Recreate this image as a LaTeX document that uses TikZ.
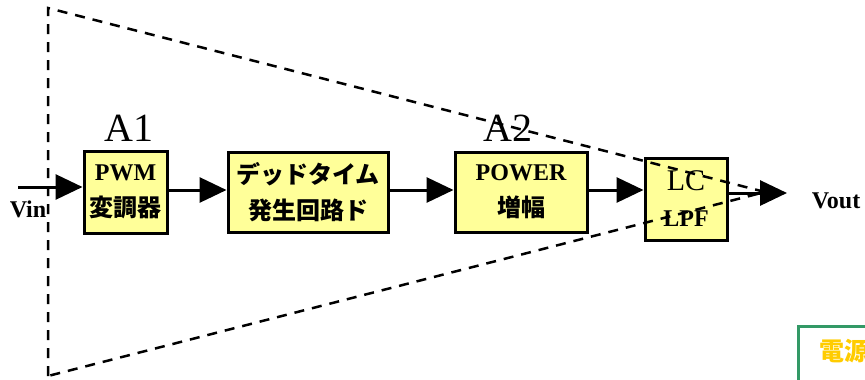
\documentclass[tikz,border=0pt]{standalone}
\usepackage{fontspec}
\setmainfont{Liberation Serif}
\newfontfamily\jp{Noto Sans CJK JP}
\usetikzlibrary{arrows.meta}
\definecolor{boxfill}{HTML}{FFFF99}
\definecolor{srcgreen}{HTML}{339966}
\definecolor{srcgold}{HTML}{FFCC00}
\tikzset{
  blockbox/.style={draw=black, line width=3pt, fill=boxfill, inner sep=0pt, align=center,
    font=\fontsize{24}{36}\selectfont\bfseries},
  sig/.style={line width=3pt, -{Triangle[length=27pt,width=25pt]}},
  dashline/.style={line width=2.5pt, dash pattern=on 10pt off 8pt},
  lbl/.style={inner sep=0pt, font=\fontsize{24}{26}\selectfont\bfseries},
  alabel/.style={inner sep=0pt, font=\fontsize{40}{40}\selectfont},
}
\begin{document}
\begin{tikzpicture}[x=1pt,y=-1pt]
\useasboundingbox (0,0) rectangle (865,380);
% blocks
\node[blockbox, minimum width=83pt, minimum height=82pt] (pwm) at (125.5,192)
  {PWM\\ \jp 変調器};
\node[blockbox, minimum width=160pt, minimum height=80pt] (dead) at (308,192)
  {\jp デッドタイム\\ \jp 発生回路ド};
\node[blockbox, minimum width=132pt, minimum height=80pt] (pow) at (521,192)
  {POWER\\ \jp 増幅};
\node[blockbox, minimum width=82pt, minimum height=82pt] (lc) at (686,199)
  {\fontsize{30}{34}\selectfont\mdseries LC\\ LPF};
% labels
\node[alabel] (a1) at (129,128) {A1};
\node[alabel] (a2) at (508,128) {A2};
\node[lbl] (vin) at (28,209) {Vin};
\node[lbl] (vout) at (836,201) {Vout};
% connectors
\coordinate (vinstart) at (18,187);
\coordinate (voutend) at (787,193);
\draw[sig] (vinstart) -- (pwm.west |- vinstart);
\draw[sig] (pwm.east |- 0,190) -- (dead.west |- 0,190);
\draw[sig] (dead.east |- 0,190) -- (pow.west |- 0,190);
\draw[sig] (pow.east |- 0,190) -- (lc.west |- 0,190);
\draw[sig] (lc.east |- voutend) -- (voutend);
% dashed triangle
\coordinate (tl) at (48,8);
\coordinate (bl) at (48,376);
\coordinate (apex) at (765,192);
\draw[dashline] (bl) -- (tl) -- (apex) -- cycle;
% power source box (cut by the edge)
\node[draw=srcgreen, line width=3pt, minimum width=80pt, minimum height=62pt, inner sep=0pt, anchor=north west] (src) at (796.5,324.5) {};
\node[anchor=west, inner sep=0pt, text=srcgold, font=\fontsize{25}{25}\selectfont\bfseries\jp] (srctext) at (819,351) {電源};
\end{tikzpicture}
\end{document}
